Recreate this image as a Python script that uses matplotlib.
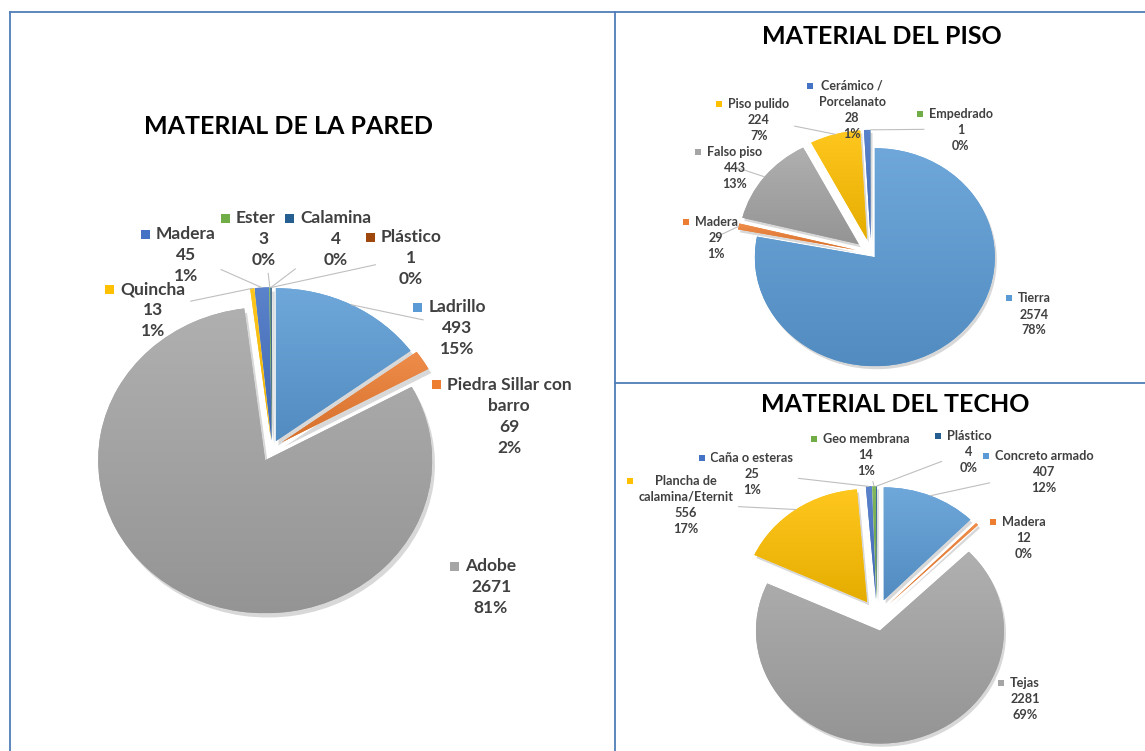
import numpy as np
import matplotlib.pyplot as plt
import matplotlib.patches as mpatches
import matplotlib.colors as mcolors
from matplotlib.lines import Line2D
from matplotlib.transforms import Bbox, IdentityTransform

W, H = 1145, 751

plt.rcParams['font.family'] = ['Lato', 'DejaVu Sans']

# Material de la pared
pared_cat = ["Ladrillo", "Piedra Sillar con\nbarro", "Adobe", "Quincha",
             "Madera", "Esteras", "Calamina", "Plástico"]
pared_val = [493, 69, 2671, 13, 45, 3, 4, 1]
pared_pct = ["15%", "2%", "81%", "1%", "1%", "0%", "0%", "0%"]

# Material del piso
piso_cat = ["Tierra", "Madera", "Falso piso", "Piso pulido",
            "Cerámico /\nPorcelanato", "Empedrado"]
piso_val = [2574, 29, 443, 224, 28, 1]
piso_pct = ["78%", "1%", "13%", "7%", "1%", "0%"]

# Material del techo
techo_cat = ["Concreto armado", "Madera", "Tejas", "Plancha de\ncalamina/Eternit",
             "Caña o esteras", "Geo membrana", "Plástico"]
techo_val = [407, 12, 2281, 556, 25, 14, 4]
techo_pct = ["12%", "0%", "69%", "17%", "1%", "1%", "0%"]

# paleta de Office
AZUL_CLARO = '#5B9BD5'
NARANJA = '#ED7D31'
GRIS = '#A5A5A5'
AMARILLO = '#FFC000'
AZUL = '#4472C4'
VERDE = '#70AD47'
AZUL_OSCURO = '#255E91'
MARRON = '#9E480E'

fig = plt.figure(figsize=(W / 100, H / 100), dpi=100)
etiquetas = []


def degradado(ax, w, col):
    # relleno con degradado vertical, más claro arriba
    base = np.array(mcolors.to_rgb(col))
    arriba = base + (1 - base) * 0.12
    abajo = base * 0.9
    t = np.linspace(0, 1, 96)[:, None, None]
    img = (1 - t) * arriba + t * abajo
    ext = w.get_path().get_extents()
    ax.imshow(img, extent=(ext.x0, ext.x1, ext.y0, ext.y1), aspect='auto',
              interpolation='bilinear', clip_path=w, zorder=1.05)


def draw_pie(values, cats, pcts, colors, explode, center, rx, ry,
             label_pos, leaders, fsize, pitch, msize, fondo):
    cx, cy = center
    lim = 1.45
    ax = fig.add_axes([(cx - lim * rx) / W, 1 - (cy + lim * ry) / H,
                       2 * lim * rx / W, 2 * lim * ry / H])
    wedges, _ = ax.pie(values, colors=colors, explode=explode, startangle=90,
                       counterclock=False, wedgeprops={'linewidth': 0},
                       shadow=dict(ox=0.012, oy=-0.02, facecolor='#7F7F7F',
                                   edgecolor='#7F7F7F', alpha=0.3))
    for w, col in zip(wedges, colors):
        degradado(ax, w, col)
    ax.set_aspect('auto')
    ax.set_xlim(-lim, lim)
    ax.set_ylim(-lim, lim)
    ax.axis('off')

    fpx = fsize * 100 / 72
    for w, cat, v, p, (lx, ly), lead, col in zip(wedges, cats, values, pcts,
                                                  label_pos, leaders, colors):
        lineas = cat.split('\n') + [str(v), p]
        n = len(lineas)
        textos = []
        for i, linea in enumerate(lineas):
            y = ly + (i - (n - 1) / 2) * pitch + 0.36 * fpx
            textos.append(fig.text(lx / W, 1 - y / H, linea, ha='center',
                                   va='baseline', fontsize=fsize,
                                   fontweight='bold', color='#404040', zorder=5))
        punta = None
        if lead:
            theta = np.deg2rad((w.theta1 + w.theta2) / 2)
            punta = (w.center[0] + w.r * np.cos(theta),
                     w.center[1] + w.r * np.sin(theta))
        etiquetas.append((ax, textos, punta, col, msize, (lx, ly), fondo))
    return ax


draw_pie(pared_val, pared_cat, pared_pct,
         [AZUL_CLARO, NARANJA, GRIS, AMARILLO, AZUL, VERDE, AZUL_OSCURO, MARRON],
         [0.05, 0.07, 0.09, 0.05, 0.05, 0.05, 0.05, 0.05],
         (272, 448), 167, 153,
         [(457, 327), (509, 415), (491, 586), (153, 309), (186, 254),
          (264, 238), (336, 238), (411, 257)],
         [True, False, False, True, True, True, True, True],
         12.5, 21, 9, 10)

draw_pie(piso_val, piso_cat, piso_pct,
         [AZUL_CLARO, NARANJA, GRIS, AMARILLO, AZUL, VERDE],
         [0.05, 0.13, 0.13, 0.13, 0.13, 0.13],
         (871, 253), 120, 109,
         [(1034, 314), (716, 237), (735, 167), (759, 119), (852, 109), (961, 129)],
         [False, True, True, True, False, True],
         9, 16, 6, 2)

draw_pie(techo_val, techo_cat, techo_pct,
         [AZUL_CLARO, NARANJA, GRIS, AMARILLO, AZUL, VERDE, AZUL_OSCURO],
         [0.14, 0.14, 0.14, 0.14, 0.14, 0.14, 0.14],
         (877, 615), 124, 113,
         [(1044, 471), (1024, 537), (1025, 698), (686, 504), (752, 473),
          (866, 454), (969, 451)],
         [True, False, False, True, True, True, True],
         9.2, 16, 6, 2)

# títulos
fig.text(289 / W, 1 - 127 / H, "MATERIAL DE LA PARED", ha='center', va='center',
         fontsize=18, fontweight='bold', color='black')
fig.text(882 / W, 1 - 36 / H, "MATERIAL DEL PISO", ha='center', va='center',
         fontsize=18, fontweight='bold', color='black')
fig.text(895 / W, 1 - 405 / H, "MATERIAL DEL TECHO", ha='center', va='center',
         fontsize=18, fontweight='bold', color='black')

# marcos de los paneles
borde = dict(color='#4F7DB8', lw=1.3)
for (x0, y0), (x1, y1) in [((10, 12), (1145, 12)), ((10, 12), (10, 751)),
                           ((615, 12), (615, 751)), ((615, 383), (1145, 383))]:
    fig.add_artist(Line2D([x0 / W, x1 / W], [1 - y0 / H, 1 - y1 / H], **borde))

# líneas guía y cuadritos de color delante de cada etiqueta
fig.canvas.draw()
renderer = fig.canvas.get_renderer()
for ax, textos, punta, col, ms, (lx, ly), fondo in etiquetas:
    cajas = [t.get_window_extent(renderer) for t in textos]
    bb = Bbox.union(cajas)
    if punta is not None:
        pad = 5
        caja = mpatches.Rectangle((bb.x0 - pad, bb.y0 - pad), bb.width + 2 * pad,
                                  bb.height + 2 * pad, transform=IdentityTransform())
        ax.annotate("", xy=punta, xycoords='data',
                    xytext=(lx, H - ly), textcoords='figure pixels',
                    arrowprops=dict(arrowstyle='-', color='#BFBFBF', lw=0.8,
                                    shrinkA=0, shrinkB=0, patchA=caja),
                    annotation_clip=False)
    primera = cajas[0]
    ymid = (primera.y0 + primera.y1) / 2
    lh = primera.height
    mx = bb.x0 - 6 - ms
    fig.add_artist(mpatches.Rectangle(((mx - fondo) / W, (ymid - lh / 2) / H),
                                      (bb.x0 - mx + fondo) / W, lh / H,
                                      transform=fig.transFigure, fc='white',
                                      ec='none', zorder=6))
    fig.add_artist(mpatches.Rectangle((mx / W, (ymid - ms / 2) / H), ms / W, ms / H,
                                      transform=fig.transFigure, fc=col,
                                      ec='none', zorder=7))

fig.savefig('out.png', dpi=100)
